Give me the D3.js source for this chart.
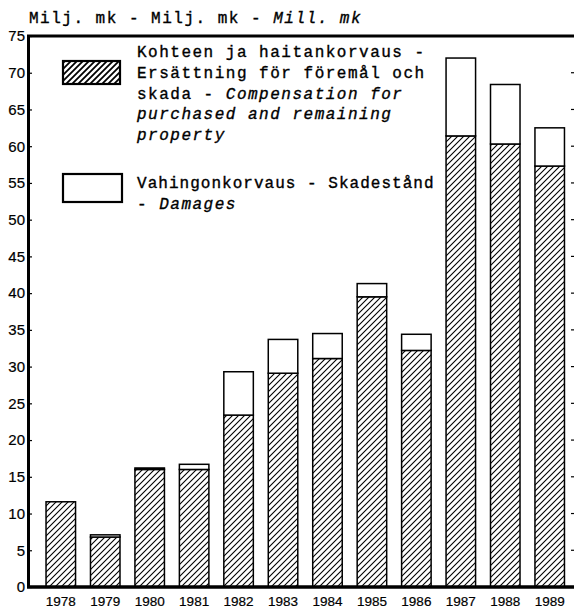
<!DOCTYPE html>
<html>
<head>
<meta charset="utf-8">
<script src="https://cdn.jsdelivr.net/npm/d3@7/dist/d3.min.js"></script>
<style>
  html, body { margin: 0; padding: 0; background: #fff; }
  svg { display: block; }
  .mono { font-family: "Liberation Mono", "DejaVu Sans Mono", monospace; font-size: 16px; letter-spacing: 1.5px; fill: #000; stroke: #000; stroke-width: 0.35px; }
  .it { font-style: italic; }
  .axis text { font-family: "Liberation Sans", Arial, sans-serif; fill: #000; stroke: #000; stroke-width: 0.2px; }
</style>
</head>
<body>
<script>
// ---- data ----
const years = ["1978","1979","1980","1981","1982","1983","1984","1985","1986","1987","1988","1989"];
const compensation = [11.6, 6.8, 16.0, 16.0, 23.4, 29.1, 31.1, 39.5, 32.2, 61.4, 60.3, 57.3];
const damages      = [0.0, 0.3, 0.2, 0.7, 5.9, 4.6, 3.4, 1.8, 2.2, 10.6, 8.1, 5.2];
const yTicks = [0,5,10,15,20,25,30,35,40,45,50,55,60,65,70,75];
const rightTicks = [5,10,15,20,25,30,35,40,45,50,55,60,65,70];
const titleParts = [["Milj. mk - Milj. mk - ", false], ["Mill. mk", true]];
const legend1 = [
  [["Kohteen ja haitankorvaus -", false]],
  [["Ersättning för föremål och", false]],
  [["skada - ", false], ["Compensation for", true]],
  [["purchased and remaining", true]],
  [["property", true]]
];
const legend2 = [
  [["Vahingonkorvaus - Skadestånd", false]],
  [["- ", false], ["Damages", true]]
];

const W = 574, H = 608;
const svg = d3.select("body").append("svg").attr("width", W).attr("height", H);

const defs = svg.append("defs");
const pat = defs.append("pattern").attr("id", "hatch")
  .attr("patternUnits", "userSpaceOnUse").attr("width", 6).attr("height", 6);
pat.append("rect").attr("width", 6).attr("height", 6).attr("fill", "#fff");
pat.append("path").attr("d", "M-1,1 l2,-2 M0,6 l6,-6 M5,7 l2,-2")
  .attr("stroke", "#000").attr("stroke-width", 1.1);
const pat2 = defs.append("pattern").attr("id", "hatch2")
  .attr("patternUnits", "userSpaceOnUse").attr("width", 6).attr("height", 6);
pat2.append("rect").attr("width", 6).attr("height", 6).attr("fill", "#fff");
pat2.append("path").attr("d", "M-1,1 l2,-2 M0,6 l6,-6 M5,7 l2,-2")
  .attr("stroke", "#000").attr("stroke-width", 1.8);

const axisX = 28, rightX = 574;
const y = d3.scaleLinear().domain([0, 75]).range([587, 36]);
const x = d3.scaleBand().domain(years).range([32.7, 577.8])
  .paddingInner(0.336).paddingOuter(0.3);

// bars
const data = years.map((yr, i) => ({ yr, c: compensation[i], d: damages[i] }));
const g = svg.append("g");
g.selectAll("rect.comp").data(data).enter().append("rect")
  .attr("class", "comp")
  .attr("x", d => x(d.yr)).attr("width", x.bandwidth())
  .attr("y", d => y(d.c)).attr("height", d => y(0) - y(d.c))
  .attr("fill", "url(#hatch)").attr("stroke", "#000").attr("stroke-width", 1.5);
g.selectAll("rect.dam").data(data.filter(d => d.d > 0)).enter().append("rect")
  .attr("class", "dam")
  .attr("x", d => x(d.yr)).attr("width", x.bandwidth())
  .attr("y", d => y(d.c + d.d)).attr("height", d => y(d.c) - y(d.c + d.d))
  .attr("fill", "#fff").attr("stroke", "#000").attr("stroke-width", 1.5);

// y axis
const ya = svg.append("g").attr("class", "axis").attr("transform", `translate(${axisX},0)`)
  .call(d3.axisLeft(y).tickValues(yTicks).tickSize(-4).tickSizeOuter(0).tickPadding(3));
ya.select(".domain").attr("stroke", "#000").attr("stroke-width", 3);
ya.selectAll(".tick line").attr("stroke", "#000").attr("stroke-width", 1.2);
ya.selectAll(".tick text").attr("font-size", 15);

// x axis
const xa = svg.append("g").attr("class", "axis").attr("transform", `translate(0,${y(0)})`)
  .call(d3.axisBottom(x).tickSize(0).tickPadding(9));
xa.select(".domain").remove();
xa.selectAll(".tick text").attr("font-size", 13.5);

// baseline and top frame
svg.append("line").attr("x1", axisX - 1).attr("x2", rightX).attr("y1", y(0)).attr("y2", y(0))
  .attr("stroke", "#000").attr("stroke-width", 3.5);
svg.append("line").attr("x1", axisX - 1).attr("x2", rightX).attr("y1", y(75)).attr("y2", y(75))
  .attr("stroke", "#000").attr("stroke-width", 2.8);

// right ticks
svg.append("g").selectAll("line").data(rightTicks).enter().append("line")
  .attr("x1", 571).attr("x2", 574).attr("y1", d => y(d)).attr("y2", d => y(d))
  .attr("stroke", "#000").attr("stroke-width", 1.2);

// title
function writeLine(parent, parts, tx, ty, len) {
  const t = parent.append("text").attr("class", "mono").attr("x", tx).attr("y", ty)
    .attr("xml:space", "preserve").style("white-space", "pre");
  if (len) t.attr("textLength", len).attr("lengthAdjust", "spacing");
  parts.forEach(([s, it]) => t.append("tspan").attr("class", it ? "it" : null).text(s));
}
writeLine(svg, titleParts, 29, 23);

// legend
const lg = svg.append("g");
lg.append("rect").attr("x", 63).attr("y", 61).attr("width", 57).attr("height", 23)
  .attr("fill", "url(#hatch2)").attr("stroke", "#000").attr("stroke-width", 2.2);
lg.append("rect").attr("x", 63).attr("y", 174).attr("width", 59).attr("height", 28)
  .attr("fill", "#fff").attr("stroke", "#000").attr("stroke-width", 2.2);
legend1.forEach((ln, i) => writeLine(lg, ln, 137, 57 + i * 20.8));
legend2.forEach((ln, i) => writeLine(lg, ln, 137, 188 + i * 20.5, i === 0 ? 298 : null));
</script>
</body>
</html>
